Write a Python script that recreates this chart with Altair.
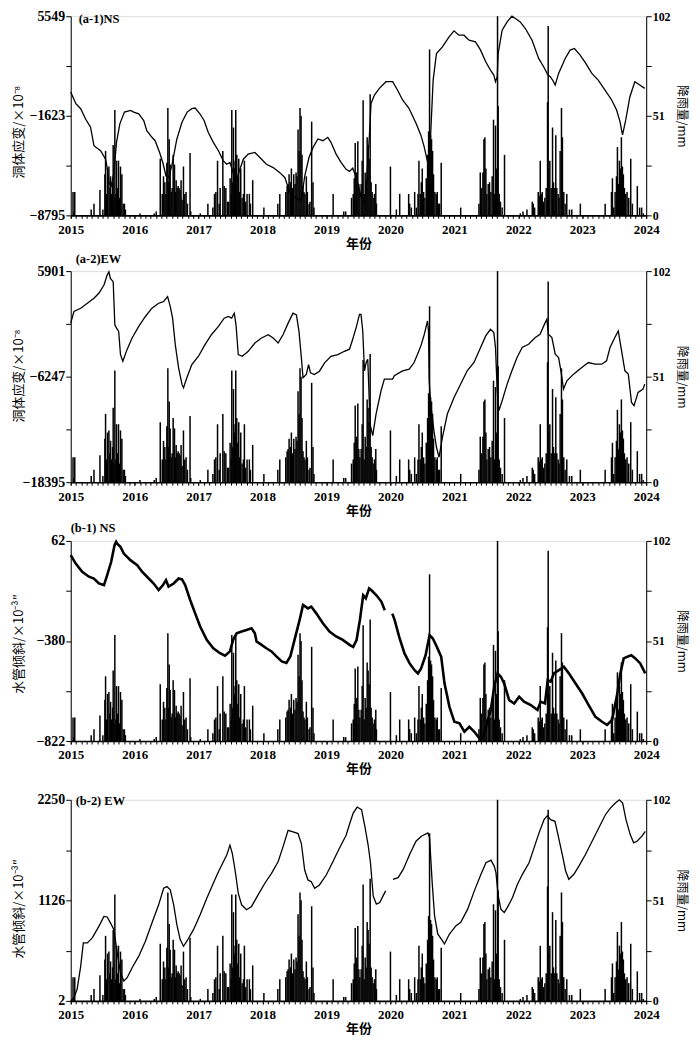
import altair as alt
import pandas as pd

YEARS = list(range(2015, 2025))
MONTHS = [2015 + k / 12 for k in range(0, 109)]
RAIN_TICKS = [0, 25.5, 51, 76.5, 102]

# daily rainfall (decimal year, mm)
RAIN = [
    (2015.036, 12), (2015.05, 2), (2015.063, 12), (2015.32, 3), (2015.364, 6), (2015.457, 13),
    (2015.503, 3), (2015.534, 21), (2015.545, 33), (2015.561, 11), (2015.576, 24), (2015.597, 25),
    (2015.613, 14), (2015.623, 20), (2015.639, 11), (2015.654, 17), (2015.664, 36), (2015.68, 9),
    (2015.69, 54), (2015.706, 11), (2015.716, 28), (2015.732, 14), (2015.747, 28), (2015.763, 9),
    (2015.778, 25), (2015.8, 21), (2015.82, 6), (2015.84, 6), (2015.855, 3),
    (2016.083, 1), (2016.306, 1), (2016.337, 2), (2016.4, 29), (2016.431, 11), (2016.451, 20),
    (2016.472, 17), (2016.488, 11), (2016.503, 27), (2016.519, 55), (2016.529, 17), (2016.54, 39),
    (2016.555, 26), (2016.571, 12), (2016.586, 14), (2016.602, 31), (2016.623, 26), (2016.638, 12),
    (2016.649, 18), (2016.664, 14), (2016.68, 15), (2016.695, 14), (2016.711, 13), (2016.726, 18),
    (2016.742, 8), (2016.763, 25), (2016.784, 11), (2016.804, 12), (2016.825, 6), (2016.866, 32),
    (2016.877, 2),
    (2017.026, 1), (2017.145, 6), (2017.223, 4), (2017.249, 11), (2017.27, 12), (2017.296, 28),
    (2017.322, 6), (2017.337, 14), (2017.379, 33), (2017.4, 15), (2017.426, 14), (2017.452, 7),
    (2017.472, 7), (2017.493, 19), (2017.509, 11), (2017.519, 54), (2017.535, 17), (2017.545, 45),
    (2017.561, 24), (2017.571, 28), (2017.581, 54), (2017.597, 31), (2017.613, 19), (2017.628, 29),
    (2017.644, 12), (2017.659, 24), (2017.68, 9), (2017.701, 11), (2017.716, 28), (2017.737, 7),
    (2017.758, 11), (2017.794, 11), (2017.81, 6), (2017.846, 18),
    (2018.021, 4), (2018.239, 6), (2018.27, 11), (2018.363, 12), (2018.384, 15), (2018.399, 16),
    (2018.415, 21), (2018.436, 17), (2018.451, 24), (2018.467, 14), (2018.488, 21), (2018.508, 16),
    (2018.524, 22), (2018.539, 20), (2018.555, 44), (2018.571, 33), (2018.586, 55), (2018.602, 51),
    (2018.617, 31), (2018.633, 15), (2018.648, 12), (2018.664, 11), (2018.685, 20), (2018.701, 12),
    (2018.727, 6), (2018.742, 7), (2018.768, 48), (2018.789, 17), (2018.804, 4),
    (2019.104, 11), (2019.27, 2), (2019.3, 2), (2019.392, 9), (2019.418, 11), (2019.434, 19),
    (2019.449, 37), (2019.47, 22), (2019.49, 38), (2019.506, 16), (2019.522, 12), (2019.542, 16),
    (2019.558, 28), (2019.573, 59), (2019.589, 11), (2019.605, 22), (2019.62, 17), (2019.636, 40),
    (2019.651, 36), (2019.667, 29), (2019.683, 62), (2019.698, 17), (2019.714, 12), (2019.729, 9),
    (2019.75, 11), (2019.771, 16), (2019.781, 6),
    (2020.0, 25), (2020.093, 3), (2020.145, 11), (2020.285, 11), (2020.301, 6), (2020.327, 4),
    (2020.379, 12), (2020.405, 4), (2020.431, 11), (2020.446, 28), (2020.467, 11), (2020.483, 17),
    (2020.498, 24), (2020.519, 12), (2020.539, 9), (2020.56, 19), (2020.581, 31), (2020.597, 43),
    (2020.612, 85), (2020.628, 41), (2020.643, 39), (2020.659, 33), (2020.674, 21), (2020.695, 12),
    (2020.716, 11), (2020.732, 12), (2020.752, 6), (2020.768, 6), (2020.794, 27),
    (2021.099, 4), (2021.384, 6), (2021.405, 22), (2021.426, 14), (2021.446, 22), (2021.462, 39),
    (2021.477, 40), (2021.493, 24), (2021.508, 11), (2021.529, 16), (2021.55, 17), (2021.571, 12),
    (2021.591, 20), (2021.612, 49), (2021.628, 11), (2021.643, 46), (2021.659, 24), (2021.675, 102),
    (2021.685, 56), (2021.701, 11), (2021.721, 7), (2021.747, 4), (2021.784, 31),
    (2022.031, 1), (2022.073, 2), (2022.135, 3), (2022.218, 7), (2022.234, 6), (2022.255, 4),
    (2022.311, 12), (2022.327, 10), (2022.343, 28), (2022.358, 11), (2022.374, 12), (2022.395, 7),
    (2022.415, 9), (2022.436, 14), (2022.457, 58), (2022.467, 97), (2022.477, 24), (2022.493, 28),
    (2022.514, 14), (2022.535, 45), (2022.55, 17), (2022.571, 14), (2022.586, 41), (2022.602, 14),
    (2022.623, 11), (2022.638, 9), (2022.654, 33), (2022.675, 55), (2022.69, 40), (2022.711, 12),
    (2022.732, 6), (2022.758, 11), (2022.8, 3), (2022.836, 3), (2022.97, 6),
    (2023.358, 6), (2023.457, 12), (2023.472, 19), (2023.493, 4), (2023.514, 12), (2023.535, 20),
    (2023.55, 35), (2023.566, 16), (2023.581, 28), (2023.597, 24), (2023.612, 40), (2023.628, 25),
    (2023.643, 21), (2023.659, 14), (2023.68, 11), (2023.701, 12), (2023.727, 9), (2023.758, 29),
    (2023.784, 6), (2023.861, 15), (2023.897, 4), (2023.929, 4), (2023.955, 1),
]

# (a-1) NS borehole strain
A1 = [
    (2015.0, 97), (2015.08, -751), (2015.156, -1114), (2015.23, -1841), (2015.31, -2447),
    (2015.363, -3780), (2015.467, -4143), (2015.545, -4749), (2015.57, -5354), (2015.597, -6445),
    (2015.633, -6687), (2015.675, -5718), (2015.716, -3537), (2015.768, -2205), (2015.84, -1357),
    (2015.934, -1235), (2015.986, -1357), (2016.064, -1478), (2016.142, -1962), (2016.19, -2689),
    (2016.27, -3174), (2016.32, -3416), (2016.39, -4264), (2016.44, -4991), (2016.49, -5960),
    (2016.53, -6081), (2016.58, -5233), (2016.66, -3295), (2016.74, -2084), (2016.82, -1357),
    (2016.894, -1114), (2016.946, -1066), (2017.02, -1478), (2017.086, -1962), (2017.15, -2810),
    (2017.23, -3537), (2017.31, -4143), (2017.387, -4870), (2017.44, -5112), (2017.49, -4991),
    (2017.532, -5597), (2017.58, -6445), (2017.636, -5597), (2017.70, -4749), (2017.776, -4385),
    (2017.88, -4264), (2017.958, -4628), (2018.06, -5112), (2018.166, -5354), (2018.27, -5718),
    (2018.35, -6081), (2018.384, -6566), (2018.425, -7172), (2018.477, -7414), (2018.555, -7656),
    (2018.607, -7656), (2018.66, -5960), (2018.726, -4628), (2018.79, -3900), (2018.866, -3295),
    (2018.944, -3416), (2019.02, -3174), (2019.07, -3537), (2019.15, -4385), (2019.23, -4991),
    (2019.307, -5476), (2019.36, -5635), (2019.41, -5396), (2019.44, -5755), (2019.49, -6474),
    (2019.54, -7432), (2019.594, -7911), (2019.62, -6953), (2019.67, -3121), (2019.697, -726),
    (2019.75, -127), (2019.827, 352), (2019.93, 831), (2020.035, 831), (2020.11, 232),
    (2020.19, -486), (2020.29, -1085), (2020.4, -2163), (2020.475, -3001), (2020.527, -3839),
    (2020.58, -4917), (2020.605, -5515), (2020.63, -2881), (2020.668, 951), (2020.72, 2867),
    (2020.813, 3346), (2020.917, 4064), (2020.995, 4495), (2021.07, 4184), (2021.15, 4184),
    (2021.23, 3825), (2021.33, 3705), (2021.41, 3106), (2021.49, 2268), (2021.565, 1669),
    (2021.617, 1310), (2021.643, 831), (2021.67, 1190), (2021.685, 2867), (2021.747, 4543),
    (2021.825, 5142), (2021.90, 5549), (2021.955, 5381), (2022.03, 5142), (2022.11, 4663),
    (2022.215, 3825), (2022.318, 2508), (2022.396, 1909), (2022.463, 1310), (2022.5, 1190),
    (2022.536, 951), (2022.577, 591), (2022.63, 1430), (2022.733, 2508), (2022.81, 3106),
    (2022.878, 3226), (2022.967, 2747), (2023.055, 2148), (2023.15, 1430), (2023.25, 951),
    (2023.356, 232), (2023.46, -486), (2023.537, -1205), (2023.59, -2043), (2023.63, -3001),
    (2023.68, -1923), (2023.745, -247), (2023.822, 831), (2023.9, 591), (2023.977, 352),
]

# (a-2) EW borehole strain
A2 = [
    (2015.0, -87), (2015.05, 1248), (2015.156, 1629), (2015.26, 2201), (2015.363, 2774),
    (2015.44, 3346), (2015.52, 4299), (2015.57, 5443), (2015.597, 5825), (2015.62, 5062),
    (2015.664, 4681), (2015.69, -278), (2015.716, -660), (2015.75, -1040), (2015.778, -3710),
    (2015.815, -4473), (2015.88, -3138), (2015.96, -1803), (2016.064, -468), (2016.168, 676),
    (2016.27, 1629), (2016.375, 2201), (2016.45, 2392), (2016.515, 2964), (2016.557, 1820),
    (2016.593, 485), (2016.635, -2566), (2016.687, -5236), (2016.74, -7142), (2016.764, -7524),
    (2016.816, -6380), (2016.894, -4854), (2016.998, -3900), (2017.1, -2566), (2017.2, -1422),
    (2017.31, -468), (2017.4, 485), (2017.465, 676), (2017.517, 485), (2017.558, 1057),
    (2017.585, -278), (2017.62, -3710), (2017.683, -3900), (2017.776, -3329), (2017.88, -2375),
    (2017.984, -1803), (2018.088, -1422), (2018.166, -1803), (2018.243, -2375), (2018.32, -1422),
    (2018.4, -87), (2018.477, 1057), (2018.53, 867), (2018.57, -1040), (2018.607, -4091),
    (2018.633, -6380), (2018.684, -5999), (2018.72, -4854), (2018.75, -5808), (2018.81, -5999),
    (2018.89, -5617), (2018.97, -4663), (2019.07, -3900), (2019.178, -3710), (2019.28, -3329),
    (2019.36, -3090), (2019.41, -1942), (2019.464, -604), (2019.516, 927), (2019.54, 927),
    (2019.567, -986), (2019.594, -5577), (2019.62, -4620), (2019.645, -4238), (2019.66, -7107),
    (2019.68, -11699), (2019.723, -13038), (2019.775, -10551), (2019.853, -7872), (2019.905, -6533),
    (2020.035, -6533), (2020.06, -6150), (2020.19, -5577), (2020.294, -5386), (2020.37, -4620),
    (2020.424, -3664), (2020.476, -2707), (2020.53, -1368), (2020.58, 162), (2020.595, -986),
    (2020.606, -6724), (2020.63, -9403), (2020.68, -12464), (2020.72, -14377), (2020.76, -15525),
    (2020.813, -13229), (2020.89, -10551), (2020.995, -8638), (2021.124, -6724), (2021.2, -5577),
    (2021.307, -4620), (2021.41, -2898), (2021.49, -1559), (2021.565, -794), (2021.617, -1176),
    (2021.643, -2898), (2021.67, -7872), (2021.695, -10168), (2021.747, -9020), (2021.825, -7107),
    (2021.9, -5577), (2021.98, -4047), (2022.06, -2898), (2022.16, -2516), (2022.266, -1751),
    (2022.34, -1368), (2022.42, -30), (2022.447, 353), (2022.47, -1368), (2022.525, -1751),
    (2022.577, -3664), (2022.63, -4047), (2022.666, -5577), (2022.707, -7681), (2022.76, -6724),
    (2022.863, -5960), (2022.993, -5194), (2023.096, -4620), (2023.2, -4812), (2023.304, -4812),
    (2023.38, -4429), (2023.434, -2898), (2023.51, -1751), (2023.563, -986), (2023.615, -3281),
    (2023.667, -5577), (2023.72, -5960), (2023.77, -9212), (2023.81, -9594), (2023.873, -8064),
    (2023.95, -7681), (2023.977, -7107),
]

# (b-1) NS water-tube tilt
B1 = [
    (2015.0, -1), (2015.078, -38), (2015.18, -74), (2015.285, -96), (2015.363, -104),
    (2015.44, -126), (2015.52, -133), (2015.57, -89), (2015.633, -30), (2015.685, 43),
    (2015.71, 58), (2015.726, 50), (2015.778, 36), (2015.83, 6), (2015.934, -23), (2016.04, -45),
    (2016.116, -74), (2016.22, -104), (2016.297, -126), (2016.375, -155), (2016.443, -133),
    (2016.49, -111), (2016.53, -140), (2016.61, -126), (2016.687, -104), (2016.74, -108),
    (2016.79, -133), (2016.868, -199), (2016.946, -258), (2017.024, -316), (2017.127, -375),
    (2017.23, -412), (2017.335, -434), (2017.413, -445), (2017.49, -426), (2017.54, -375),
    (2017.595, -346), (2017.672, -338), (2017.75, -331), (2017.828, -324), (2017.88, -346),
    (2017.906, -382), (2017.984, -397), (2018.06, -412), (2018.14, -426), (2018.217, -448),
    (2018.3, -470), (2018.373, -477), (2018.435, -448), (2018.5, -375), (2018.58, -287),
    (2018.633, -221), (2018.71, -236), (2018.762, -228), (2018.84, -258), (2018.944, -302),
    (2019.047, -338), (2019.15, -360), (2019.255, -375), (2019.366, -398), (2019.418, -406),
    (2019.47, -376), (2019.522, -288), (2019.574, -178), (2019.615, -192), (2019.667, -148),
    (2019.703, -156), (2019.781, -178), (2019.86, -207), (2019.911, -244),
    (2020.03, -259), (2020.066, -288), (2020.144, -369), (2020.22, -435), (2020.3, -479),
    (2020.378, -509), (2020.43, -523), (2020.48, -501), (2020.55, -443), (2020.612, -354),
    (2020.663, -369), (2020.726, -406), (2020.794, -450), (2020.846, -568), (2020.923, -671),
    (2021.0, -737), (2021.08, -744), (2021.156, -781), (2021.234, -759), (2021.312, -781),
    (2021.39, -810), (2021.44, -810), (2021.494, -759), (2021.57, -685), (2021.623, -582),
    (2021.675, -523), (2021.727, -538), (2021.779, -568), (2021.857, -641), (2021.935, -656),
    (2022.013, -626), (2022.09, -648), (2022.195, -663), (2022.3, -685), (2022.35, -648),
    (2022.417, -656), (2022.46, -553), (2022.505, -560), (2022.557, -523), (2022.635, -509),
    (2022.713, -494), (2022.79, -523), (2022.895, -568), (2022.999, -612), (2023.1, -663),
    (2023.206, -715), (2023.31, -737), (2023.388, -751), (2023.466, -729), (2023.544, -619),
    (2023.596, -523), (2023.648, -457), (2023.7, -450), (2023.767, -443), (2023.83, -457),
    (2023.907, -479), (2023.985, -523),
]

# (b-2) EW water-tube tilt
B2 = [
    (2015.0, 2), (2015.05, 39), (2015.1, 132), (2015.156, 391), (2015.197, 650), (2015.26, 650),
    (2015.337, 706), (2015.44, 835), (2015.52, 947), (2015.57, 940), (2015.623, 872),
    (2015.675, 798), (2015.727, 539), (2015.778, 317), (2015.83, 224), (2015.882, 261),
    (2015.96, 373), (2016.064, 502), (2016.168, 669), (2016.27, 872), (2016.375, 1076),
    (2016.453, 1261), (2016.505, 1280), (2016.557, 1243), (2016.61, 1076), (2016.66, 854),
    (2016.712, 687), (2016.764, 613), (2016.816, 669), (2016.92, 798), (2017.024, 965),
    (2017.128, 1150), (2017.23, 1317), (2017.31, 1446), (2017.387, 1558), (2017.44, 1632),
    (2017.49, 1743), (2017.527, 1650), (2017.57, 1465), (2017.62, 1206), (2017.673, 1076),
    (2017.75, 1021), (2017.828, 1058), (2017.93, 1187), (2018.036, 1317), (2018.14, 1428),
    (2018.243, 1558), (2018.32, 1724), (2018.4, 1909), (2018.477, 1891), (2018.555, 1872),
    (2018.607, 1761), (2018.659, 1465), (2018.71, 1354), (2018.762, 1335), (2018.815, 1261),
    (2018.89, 1298), (2018.996, 1409), (2019.1, 1558), (2019.2, 1706), (2019.307, 1854),
    (2019.366, 1991), (2019.418, 2102), (2019.48, 2169), (2019.548, 2139), (2019.6, 1954),
    (2019.65, 1750), (2019.688, 1546), (2019.73, 1176), (2019.78, 1084), (2019.833, 1102),
    (2019.885, 1176), (2019.926, 1232),
    (2020.04, 1361), (2020.12, 1380), (2020.2, 1472), (2020.3, 1639), (2020.4, 1787),
    (2020.483, 1843), (2020.586, 1880), (2020.612, 1824), (2020.653, 1324), (2020.69, 954),
    (2020.74, 750), (2020.793, 695), (2020.845, 639), (2020.923, 750), (2021.026, 843),
    (2021.1, 880), (2021.208, 1028), (2021.312, 1232), (2021.416, 1417), (2021.494, 1546),
    (2021.572, 1576), (2021.623, 1509), (2021.65, 1435), (2021.686, 1176), (2021.727, 1028),
    (2021.78, 991), (2021.83, 1047), (2021.909, 1158), (2021.987, 1306), (2022.064, 1417),
    (2022.168, 1546), (2022.246, 1713), (2022.324, 1880), (2022.402, 2028), (2022.454, 2072),
    (2022.505, 2028), (2022.573, 2009), (2022.625, 1843), (2022.687, 1639), (2022.74, 1454),
    (2022.79, 1361), (2022.869, 1417), (2022.947, 1509), (2023.05, 1639), (2023.154, 1787),
    (2023.258, 1935), (2023.362, 2083), (2023.44, 2157), (2023.518, 2213), (2023.58, 2250),
    (2023.632, 2213), (2023.684, 2028), (2023.75, 1861), (2023.804, 1769), (2023.856, 1787),
    (2023.933, 1843), (2023.985, 1898),
]

SERIF = "Liberation Serif"
CJK = "Noto Sans CJK SC"

rain_df = pd.DataFrame({"year": [r[0] for r in RAIN], "mm": [r[1] for r in RAIN]})
XSCALE = alt.Scale(domain=[2015, 2024], nice=False, zero=False)
W = 578


def panel(points, ymin, ymax, h, ytitle, ytitle_y, label, lab_x, lab_y, lw, gap=None):
    xs = [p[0] for p in points]
    vs = [p[1] for p in points]
    seg = [0 if (gap is None or x < gap) else 1 for x in xs]
    df = pd.DataFrame({"year": xs, "v": vs, "seg": seg})
    mid = (ymin + ymax) / 2
    q1 = (ymin + mid) / 2
    q3 = (mid + ymax) / 2

    rain = alt.Chart(rain_df).mark_rule(color="black", strokeWidth=1.5).encode(
        x=alt.X("year:Q", scale=XSCALE, axis=alt.Axis(
            orient="bottom", values=MONTHS, labels=False, title=None, tickSize=3,
            tickWidth=1, tickColor="black", domain=False, grid=False)),
        y=alt.Y("mm:Q", scale=alt.Scale(domain=[0, 102], nice=False), axis=alt.Axis(
            orient="right", values=RAIN_TICKS, format="d",
            labelExpr="datum.value == 0 || datum.value == 51 || datum.value == 102 ? datum.label : ''",
            labelFont=SERIF, labelFontWeight="bold", labelFontSize=12, labelPadding=1,
            tickSize=5, grid=False, domainColor="black", tickColor="black", labelColor="black",
            title="降雨量/mm", titleFont=CJK, titleFontSize=12, titleFontWeight="normal",
            titleAngle=90, titleX=28, titleY=h / 2, titleBaseline="bottom", titleAlign="center",
            titleColor="black")),
        y2=alt.Y2Datum(0),
    )

    line = alt.Chart(df).mark_line(color="black", strokeWidth=lw).encode(
        x=alt.X("year:Q", scale=XSCALE, axis=alt.Axis(
            orient="bottom", values=YEARS, format="d", labelFont=SERIF, labelFontWeight="bold",
            labelFontSize=13, labelPadding=5, labelFlush=False, tickSize=3, tickColor="black",
            domainColor="black", domainWidth=1.6, labelColor="black", grid=False,
            title="年份", titleFont=CJK, titleFontSize=13, titleFontWeight="bold",
            titlePadding=1, titleColor="black")),
        y=alt.Y("v:Q", scale=alt.Scale(domain=[ymin, ymax], nice=False, zero=False), axis=alt.Axis(
            orient="left", values=[ymin, q1, mid, q3, ymax], format="d",
            labelExpr=f"datum.value == {ymin} || datum.value == {mid} || datum.value == {ymax} ? datum.label : ''",
            labelFont=SERIF, labelFontWeight="bold", labelFontSize=14, labelPadding=1,
            tickSize=5, grid=False, domainColor="black", tickColor="black", labelColor="black",
            title=ytitle, titleFont=CJK, titleFontSize=13, titleFontWeight="normal",
            titleAngle=270, titleX=-45, titleY=ytitle_y, titleBaseline="bottom",
            titleAlign="center", titleColor="black")),
        detail="seg:N",
    )

    txt = alt.Chart(pd.DataFrame({"t": [label]})).mark_text(
        align="left", baseline="middle", font=SERIF, fontWeight="bold", fontSize=12.5,
        color="black").encode(text="t:N", x=alt.value(lab_x), y=alt.value(lab_y))

    return alt.layer(rain, line, txt).resolve_scale(y="independent").resolve_axis(
        x="independent", y="independent").properties(width=W, height=h)


p1 = panel(A1, -8795, 5549, 200, "洞体应变/×10⁻⁸", 116, "(a-1)NS", 8, 3, 1.3)
p2 = panel(A2, -18395, 5901, 212, "洞体应变/×10⁻⁸", 105, "(a-2)EW", 5, -12, 1.3)
p3 = panel(B1, -822, 62, 201, "水管倾斜/×10⁻³″", 103, "(b-1) NS", 0, -13, 2.6, gap=2019.97)
p4 = panel(B2, 2, 2250, 202, "水管倾斜/×10⁻³″", 109, "(b-2) EW", 5, 1, 1.3, gap=2019.97)

inner = alt.vconcat(p2, p3, p4, spacing=59, bounds="flush")
chart = alt.vconcat(p1, inner, spacing=56, bounds="flush").properties(
    padding={"left": 4, "top": -2, "right": 4, "bottom": 0}
).configure_view(stroke="transparent").configure(background="white")

chart.save("out.html", embed_options={"renderer": "svg", "actions": False})
